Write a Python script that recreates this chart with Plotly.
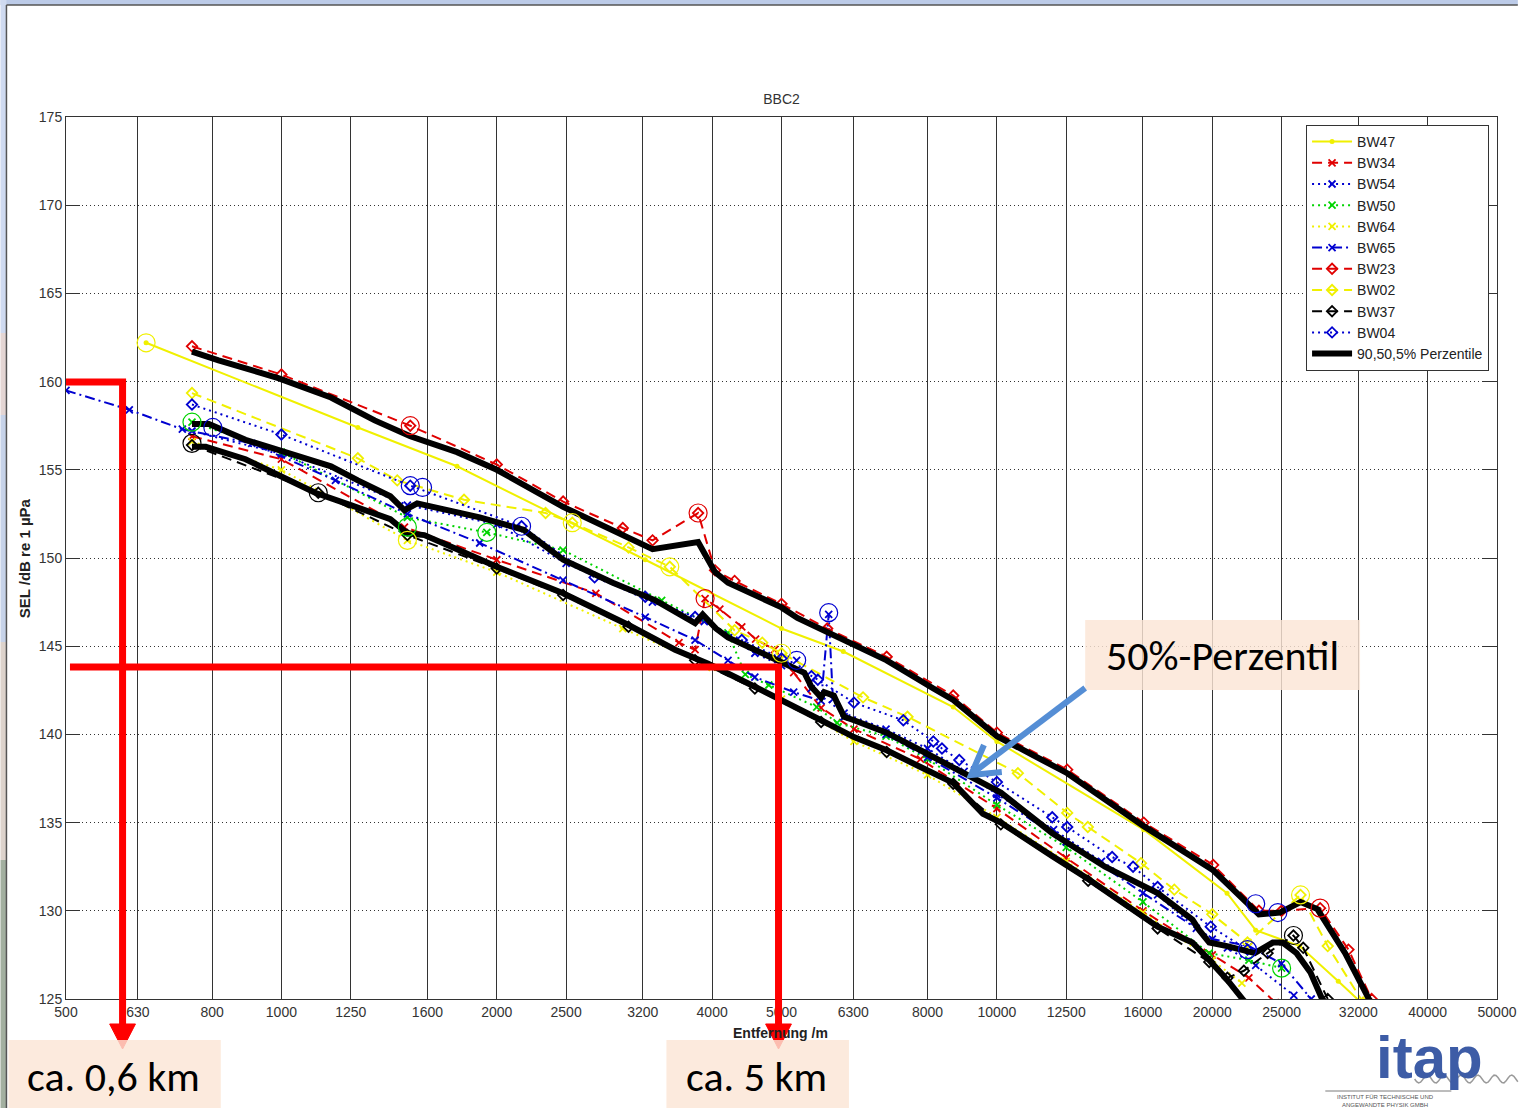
import math
import plotly.graph_objects as go

# ---------------- data ----------------
x_ticks = [500, 630, 800, 1000, 1250, 1600, 2000, 2500, 3200, 4000, 5000, 6300,
           8000, 10000, 12500, 16000, 20000, 25000, 32000, 40000, 50000]
y_ticks = [125, 130, 135, 140, 145, 150, 155, 160, 165, 170, 175]

bw47_d = [647, 1279, 1760, 3225, 5000, 6100, 8689, 10000, 16040, 20975, 23000, 26500, 30000, 33500]
bw47_sel = [162.2, 157.4, 155.2, 149.9, 146.0, 144.7, 141.55, 139.6, 134.6, 131.0, 128.9, 128.0, 126.0, 124.2]

bw34_d = [750, 1000, 1486, 2000, 2751, 3595, 3786, 3910, 4100, 4400, 4600, 4890, 5200, 5680,
          6313, 7820, 10000, 12500, 16000, 20000, 22500, 24500]
bw34_sel = [156.9, 155.6, 151.75, 149.9, 148.0, 145.2, 144.8, 147.7, 147.1, 146.1, 145.4, 144.8,
            143.5, 141.5, 140.3, 138.6, 135.8, 133.0, 130.0, 127.5, 126.2, 124.8]

bw54_d = [750, 1000, 1500, 2000, 2500, 3300, 3900, 4589, 5000, 5250, 5500, 6116, 7000, 8000,
          9000, 10000, 12000, 14000, 16774, 19000, 21000, 23000, 26000]
bw54_sel = [157.2, 155.9, 153.0, 151.9, 149.7, 147.5, 146.4, 144.6, 143.9, 144.2, 142.6, 141.2,
            140.3, 139.2, 137.9, 136.6, 134.6, 132.8, 130.9, 129.0, 127.9, 126.9, 125.2]

bw50_d = [750, 1000, 1500, 1937, 2475, 3400, 4209, 4450, 4800, 5600, 5980, 7000, 8000, 10000,
          12500, 16000, 19800, 22500, 25000]
bw50_sel = [157.7, 156.0, 152.3, 151.45, 150.45, 147.6, 145.75, 143.4, 142.8, 141.55, 140.65,
            139.9, 138.6, 136.0, 133.6, 130.5, 127.6, 127.2, 126.75]

bw64_d = [750, 1000, 1500, 2000, 3000, 4000, 5000, 6313, 8000, 10000, 12500, 16000, 20000, 22000]
bw64_sel = [156.6, 155.0, 151.0, 149.2, 146.0, 143.8, 142.0, 139.6, 137.7, 135.3, 132.8, 129.9, 127.2, 125.9]

bw65_d = [500, 613, 727, 909, 1190, 1500, 1893, 2475, 3225, 3786, 4209, 4589, 5200, 5680, 5820,
          5900, 6116, 7000, 8000, 10000, 12500, 16000, 20000, 22500, 25000, 27500]
bw65_sel = [159.5, 158.4, 157.3, 156.5, 154.4, 152.5, 150.85, 148.75, 146.65, 145.35, 144.2,
            143.25, 142.4, 141.9, 146.8, 142.0, 141.0, 140.0, 138.7, 136.4, 133.9, 131.0, 128.4,
            128.0, 127.0, 125.0]

bw23_d = [750, 1000, 1514, 2000, 2476, 3000, 3302, 3823, 4037, 4300, 5000, 5792, 7014, 8689,
          10000, 12540, 16040, 20060, 23240, 25000, 28300, 31000, 33400]
bw23_sel = [162.0, 160.4, 157.5, 155.3, 153.2, 151.7, 151.0, 152.55, 149.3, 148.7, 147.4, 146.0,
            144.4, 142.2, 140.1, 138.0, 135.0, 132.6, 130.0, 130.0, 130.15, 127.8, 125.0]

bw02_d = [750, 1279, 1452, 1800, 2340, 2550, 3056, 3490, 4300, 4700, 5000, 6500, 7500, 10700,
          12540, 13400, 15900, 17700, 20000, 22400, 26570, 29000, 32500]
bw02_sel = [159.35, 155.65, 154.4, 153.3, 152.55, 152.0, 150.6, 149.5, 145.9, 145.2, 144.6, 142.1,
            141.0, 137.8, 135.55, 134.75, 132.7, 131.2, 129.8, 128.2, 130.9, 128.0, 124.8]

bw37_d = [750, 1126, 1500, 2000, 2476, 3056, 3786, 4589, 5680, 7014, 8689, 10127, 13414, 16774,
          19806, 21000, 22140, 23900, 25970, 26800, 29000]
bw37_sel = [156.4, 153.7, 151.3, 149.4, 147.9, 146.1, 144.2, 142.6, 140.7, 139.0, 137.2, 134.9,
            131.7, 129.0, 127.1, 126.2, 126.6, 127.6, 128.6, 127.9, 125.0]

bw04_d = [750, 1000, 1514, 2166, 2740, 3225, 3786, 4400, 5000, 5505, 5620, 6313, 7400, 8150, 8380,
          8860, 10000, 11950, 12540, 14490, 15500, 16774, 19900, 22400]
bw04_sel = [158.7, 157.0, 154.1, 151.8, 148.9, 147.8, 146.65, 145.35, 144.3, 143.3, 143.1, 141.8,
            140.8, 139.6, 139.2, 138.55, 137.3, 135.3, 134.75, 133.05, 132.5, 131.35, 129.1, 127.8]

# highlighted points (open rings)
bw47_ring_d, bw47_ring_sel = [647], [162.2]
bw34_ring_d, bw34_ring_sel = [3910], [147.7]
bw54_ring_d, bw54_ring_sel = [5250], [144.2]
bw50_ring_d, bw50_ring_sel = [750, 1500, 1937, 25000], [157.7, 151.75, 151.45, 126.75]
bw64_ring_d, bw64_ring_sel = [1500], [151.0]
bw65_ring_d, bw65_ring_sel = [5820], [146.9]
bw23_ring_d, bw23_ring_sel = [1514, 3823, 28300], [157.5, 152.55, 130.15]
bw02_ring_d, bw02_ring_sel = [2550, 3490, 5000, 26570], [152.0, 149.5, 144.6, 130.9]
bw37_ring_d, bw37_ring_sel = [750, 1126, 25970], [156.5, 153.7, 128.6]
bw04_ring_d, bw04_ring_sel = [802, 1514, 1575, 2166, 22400, 23000, 24700], [157.4, 154.1, 154.0, 151.8, 127.8, 130.4, 129.9]

p90_d = [750, 817, 990, 1173, 1350, 1514, 1760, 2000, 2476, 3302, 3823, 4037, 4209, 5000, 5262,
         5792, 7014, 8152, 8689, 10000, 12540, 16040, 20060, 23240, 24850, 26570, 28050, 30670,
         32800, 33600]
p90_sel = [161.7, 161.2, 160.2, 159.1, 157.8, 156.9, 156.0, 155.0, 152.9, 150.5, 150.9, 149.2,
           148.6, 147.2, 146.6, 145.8, 144.2, 142.6, 141.95, 139.9, 137.8, 134.8, 132.3, 129.8,
           129.9, 130.5, 130.1, 127.6, 125.3, 124.5]

p50_d = [750, 792, 891, 1013, 1173, 1279, 1420, 1486, 1548, 1893, 2180, 2476, 2905, 3333, 3786,
         3880, 4050, 4209, 4589, 5000, 5262, 5381, 5505, 5680, 5736, 5918, 5980, 6116, 6313, 7014,
         7820, 8689, 10127, 11953, 14160, 16774, 18760, 19181, 19806, 20975, 22930, 24300, 25085,
         26230, 27435, 28410, 29200]
p50_sel = [157.6, 157.6, 156.7, 156.0, 155.2, 154.4, 153.5, 152.7, 153.1, 152.3, 151.6, 149.9,
           148.6, 147.6, 146.3, 146.8, 146.0, 145.5, 144.8, 144.05, 143.65, 143.5, 142.7, 142.1,
           142.4, 142.2, 141.8, 141.0, 140.8, 140.1, 139.1, 138.15, 136.7, 134.4, 132.5, 131.0,
           129.5, 128.9, 128.2, 128.0, 127.6, 128.2, 128.2, 127.6, 126.5, 125.1, 124.4]

p5_d = [750, 784, 891, 1032, 1115, 1250, 1420, 1500, 1584, 1760, 2000, 2476, 3056, 3550, 3950,
        4589, 5096, 5680, 6313, 7014, 7820, 8689, 9561, 10127, 11953, 13414, 16774, 18760, 19806,
        20975, 22148, 23000]
p5_sel = [156.3, 156.3, 155.6, 154.4, 153.7, 153.0, 152.2, 151.4, 151.3, 150.5, 149.5, 148.0,
          146.2, 144.8, 144.0, 142.7, 141.8, 140.8, 139.85, 139.1, 138.15, 137.25, 135.5, 135.0,
          133.1, 131.8, 129.1, 128.2, 127.2, 126.1, 124.9, 124.3]

series_names = ['BW47', 'BW34', 'BW54', 'BW50', 'BW64', 'BW65', 'BW23', 'BW02', 'BW37', 'BW04']
percentile_label = '90,50,5% Perzentile'

# ---------------- styling ----------------
YEL, RED, BLU, GRN, BLK = '#f0f000', '#e00000', '#0000d0', '#00d400', '#000000'
DASH, DOT, DASHDOT = '10px,6px', '2px,4px', '10px,4px,2px,4px'

series = [
    ('BW47', bw47_d, bw47_sel, bw47_ring_d, bw47_ring_sel, YEL, 'solid', 'circle', 5),
    ('BW34', bw34_d, bw34_sel, bw34_ring_d, bw34_ring_sel, RED, DASH, 'x-thin', 7),
    ('BW54', bw54_d, bw54_sel, bw54_ring_d, bw54_ring_sel, BLU, DOT, 'x-thin', 7),
    ('BW50', bw50_d, bw50_sel, bw50_ring_d, bw50_ring_sel, GRN, DOT, 'x-thin', 7),
    ('BW64', bw64_d, bw64_sel, bw64_ring_d, bw64_ring_sel, YEL, DOT, 'x-thin', 7),
    ('BW65', bw65_d, bw65_sel, bw65_ring_d, bw65_ring_sel, BLU, DASHDOT, 'x-thin', 7),
    ('BW23', bw23_d, bw23_sel, bw23_ring_d, bw23_ring_sel, RED, DASH, 'diamond-open', 8),
    ('BW02', bw02_d, bw02_sel, bw02_ring_d, bw02_ring_sel, YEL, DASH, 'diamond-open', 8),
    ('BW37', bw37_d, bw37_sel, bw37_ring_d, bw37_ring_sel, BLK, DASH, 'diamond-open', 8),
    ('BW04', bw04_d, bw04_sel, bw04_ring_d, bw04_ring_sel, BLU, DOT, 'diamond-open', 8),
]

fig = go.Figure()

for name, d, s, rd, rs, col, dash, sym, msz in series:
    if sym == 'circle':
        marker = dict(symbol=sym, size=msz, color=col, line=dict(width=0))
    else:
        marker = dict(symbol=sym, size=msz, color=col, line=dict(color=col, width=1.8))
    fig.add_trace(go.Scatter(x=d, y=s, name=name, mode='lines+markers', legendgroup=name,
                             line=dict(color=col, width=2, dash=dash), marker=marker))

for name, sel_d, sel_s in (('p90', p90_d, p90_sel), ('p50', p50_d, p50_sel), ('p5', p5_d, p5_sel)):
    fig.add_trace(go.Scatter(x=sel_d, y=sel_s, name=percentile_label, mode='lines',
                             legendgroup='perc', showlegend=(name == 'p90'),
                             line=dict(color='black', width=6)))

for name, d, s, rd, rs, col, dash, sym, msz in series:
    fig.add_trace(go.Scatter(x=rd, y=rs, mode='markers', showlegend=False, legendgroup=name,
                             marker=dict(symbol='circle-open', size=18,
                                         color=col, line=dict(color=col, width=1.2)),
                             hoverinfo='skip'))

# ---------------- decorations (slide overlay) ----------------
L, R, T, B = 66, 1508, 117, 999


def PX(x):
    return (x - L) / (R - L)


def PY(y):
    return (B - y) / (B - T)


shapes = []


def rect(x0, y0, x1, y1, fill):
    shapes.append(dict(type='rect', xref='paper', yref='paper', x0=PX(x0), x1=PX(x1),
                       y0=PY(y1), y1=PY(y0), fillcolor=fill, line=dict(width=0), layer='above'))


def path(points, color, width, fill=None, close=False):
    s = 'M ' + ' L '.join(f'{PX(x):.5f},{PY(y):.5f}' for x, y in points) + (' Z' if close else '')
    shapes.append(dict(type='path', xref='paper', yref='paper', path=s,
                       line=dict(color=color, width=width),
                       fillcolor=fill if fill else 'rgba(0,0,0,0)', layer='above'))


# slide frame
rect(0, 0, 1529, 5, '#bccbe8')
rect(0, 0, 6, 333, '#cfdaf0')
rect(0, 333, 6, 415, '#e4d6d4')
rect(0, 415, 6, 642, '#c7d3e9')
rect(0, 642, 6, 860, '#ddd3cc')
rect(0, 860, 6, 1108, '#a3b0a0')
path([(6, 5), (1529, 5)], '#555555', 1.5)
path([(6, 5), (6, 1108)], '#555555', 1.5)

# red guide arrows
path([(66, 382), (123, 382), (123, 1028)], '#ff0000', 7)
path([(110, 1024), (136, 1024), (123, 1049)], '#ff0000', 1, fill='#ff0000', close=True)
path([(70, 667), (784, 667), (784, 1028)], '#ff0000', 7)
path([(771, 1024), (797, 1024), (784, 1049)], '#ff0000', 1, fill='#ff0000', close=True)

# peach text boxes
BOX = 'rgba(251,229,214,0.82)'
rect(8, 1040, 222, 1110, BOX)
rect(671, 1040, 855, 1110, BOX)
rect(1093, 620, 1370, 690, BOX)

# blue arrow
path([(1093, 688), (981, 772)], '#558ed5', 6)
path([(1009, 772), (978, 775), (991, 745)], '#558ed5', 6)

# itap logo decorations
wave = [(1425 + i, 1079 + 4 * math.sin(2 * math.pi * i / 17.0)) for i in range(0, 105, 2)]
path(wave, '#9a9a9a', 1.5)
path([(1335, 1091), (1462, 1091)], '#7a7a7a', 1)

TXT = 'Carlito, Open Sans, Noto Sans, sans-serif'
annotations = [
    dict(text='ca. 0,6 km', x=PX(114), y=PY(1076), font=dict(family=TXT, size=42, color='black')),
    dict(text='ca. 5 km', x=PX(762), y=PY(1076), font=dict(family=TXT, size=42, color='black')),
    dict(text='50%-Perzentil', x=PX(1231), y=PY(655), font=dict(family=TXT, size=42, color='black')),
    dict(text='<b>itap</b>', x=PX(1440), y=PY(1092), yanchor='bottom',
         font=dict(family='Liberation Sans, Arial', size=60, color='#3d5ca6')),
    dict(text='INSTITUT FÜR TECHNISCHE UND<br>ANGEWANDTE PHYSIK GMBH', x=PX(1396), y=PY(1100.5),
         font=dict(family='Liberation Sans, Arial', size=6, color='#555555')),
    dict(text='<b>Entfernung /m</b>', x=PX(786), y=PY(1033),
         font=dict(family='Liberation Sans, Arial', size=14, color='#222222')),
    dict(text='<b>SEL /dB re 1 µPa</b>', x=PX(24), y=PY(558), textangle=-90,
         font=dict(family='Liberation Sans, Arial', size=15, color='#222222')),
]
for a in annotations:
    a.setdefault('yanchor', 'middle')
    a.update(xref='paper', yref='paper', showarrow=False, xanchor='center', borderpad=0)

TICKFONT = dict(family='Liberation Sans, Arial', size=14, color='#333333')

fig.update_layout(
    width=1529, height=1108,
    margin=dict(l=L, r=1529 - R, t=T, b=1108 - B),
    paper_bgcolor='white', plot_bgcolor='white',
    title=dict(text='BBC2', x=0.5, xref='paper', xanchor='center', y=1 - 99 / 1108,
               yref='container', yanchor='middle',
               font=dict(family='Liberation Sans, Arial', size=14, color='#333333')),
    xaxis=dict(type='log', range=[math.log10(500), math.log10(50000)], tickvals=x_ticks,
               ticktext=[str(v) for v in x_ticks], showgrid=True, gridcolor='#333333', gridwidth=1,
               showline=True, linecolor='#333333', linewidth=1, mirror='ticks', ticks='inside',
               ticklen=6, tickcolor='#333333', zeroline=False, tickfont=TICKFONT),
    yaxis=dict(range=[125, 175], tickvals=y_ticks, showgrid=True, gridcolor='#333333',
               gridwidth=1, griddash='1px,3px', showline=True, linecolor='#333333', linewidth=1,
               mirror='ticks', ticks='inside', ticklen=14, tickcolor='#333333', zeroline=False,
               tickfont=TICKFONT),
    legend=dict(x=PX(1500), xanchor='right', y=PY(125), yanchor='top', bgcolor='white',
                bordercolor='#333333', borderwidth=1, font=dict(family='Liberation Sans, Arial',
                                                                  size=14, color='#222222'),
                tracegroupgap=1, itemwidth=40, traceorder='normal'),
    shapes=shapes,
    annotations=annotations,
)

fig.write_html('out.html', config={'displayModeBar': False},
               post_script="document.body.style.margin='0';document.body.style.overflow='hidden';")
